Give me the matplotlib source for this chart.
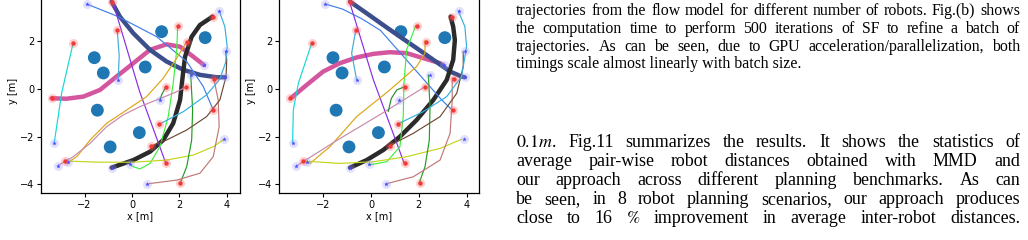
import matplotlib
matplotlib.use("Agg")
import matplotlib.pyplot as plt
import numpy as np

W, H = 1028, 240

# obstacles (same in both panels)
obs_x = [1.25, 3.09, -1.59, -1.21, 0.56, -1.46, 0.31, -0.92]
obs_y = [2.40, 2.15, 1.31, 0.67, 0.92, -0.89, -1.83, -2.43]
obs_r = 0.24

# goal (red) and start (blue) markers, same in both panels
goal_x = [-3.39, -0.86, -2.48, -0.62, 1.93, 2.31, 3.40, 1.42, 2.27, 3.46, 3.43, 1.15, 0.80, -2.83, 1.42, 2.03]
goal_y = [-0.39, 3.66, 1.94, 2.45, 2.65, 1.98, 3.03, 0.07, 0.07, 0.41, -0.88, -1.48, -2.39, -3.02, -3.09, -3.96]
start_x = [-1.91, 3.68, 3.95, -0.58, 3.92, 3.04, 2.48, 1.18, -3.28, 3.88, -2.69, -3.14, -0.86, -0.08, 0.63]
start_y = [3.56, 3.28, 1.57, 0.38, 0.49, 1.00, 0.59, -0.46, -2.25, -2.11, -3.07, -3.22, -3.30, -3.16, -3.98]

# panel (a) trajectories
a_pink = [(-3.39, -0.39), (-2.76, -0.41), (-2.05, -0.32), (-1.35, -0.04), (-0.65, 0.52), (0.06, 1.08),
          (0.76, 1.64), (1.46, 1.87), (2.03, 1.77), (2.59, 1.35), (3.04, 1.00)]
a_navy = [(-0.86, 3.66), (-0.51, 3.03), (0.06, 2.33), (0.76, 1.64), (1.46, 1.15), (2.17, 0.80),
          (2.87, 0.59), (3.57, 0.49), (3.92, 0.49)]
a_black = [(-0.86, -3.30), (0.06, -2.98), (0.76, -2.63), (1.32, -2.14), (1.74, -1.44), (2.03, -0.46),
           (2.14, 0.52), (2.24, 1.35), (2.52, 2.19), (2.87, 2.68), (3.40, 3.03)]
a_cyan = [(-2.48, 1.94), (-2.97, -0.18), (-3.28, -2.25)]
a_royal = [(-1.91, 3.56), (-0.58, 3.03), (1.04, 2.19), (2.31, 1.15), (3.01, 0.10), (3.43, -0.88)]
a_light = [(-0.62, 2.45), (-0.54, 1.40), (-0.58, 0.38)]
a_purple = [(-0.79, 3.59), (0.32, -0.10), (1.42, -3.09)]
a_lime = [(1.93, 2.65), (1.89, 1.64), (1.74, 0.24), (1.53, -1.16), (1.18, -2.42), (0.76, -3.12),
          (0.34, -3.35), (0.06, -3.26), (-0.08, -3.16)]
a_gold = [(2.31, 1.98), (1.89, 1.29), (1.32, 0.45), (0.62, -0.32), (-0.22, -0.88), (-1.07, -1.44),
          (-1.77, -2.14), (-2.33, -2.84), (-2.69, -3.07)]
a_mauve = [(2.27, 0.07), (1.74, -0.18), (1.04, -0.46), (0.34, -0.74), (-0.37, -1.09), (-1.07, -1.58),
           (-1.77, -2.28), (-2.48, -2.84), (-3.14, -3.22)]
a_yg = [(-2.83, -3.02), (-1.35, -3.07), (0.06, -3.07), (1.46, -2.98), (2.59, -2.77), (3.43, -2.42), (3.88, -2.11)]
a_green = [(2.03, -3.96), (2.31, -3.26), (2.52, -2.14), (2.56, -0.88), (2.48, 0.59)]
a_sgreen = [(1.42, 0.07), (1.25, -0.25), (1.18, -0.46)]
a_rbrown = [(3.46, 0.41), (3.64, -0.46), (3.68, -1.58), (3.43, -2.84), (2.87, -3.53), (1.89, -3.82), (0.63, -3.98)]
a_dbrown = [(0.80, -2.39), (1.46, -2.14), (2.31, -1.72), (3.15, -1.16), (3.71, -0.46), (3.97, 0.52),
            (4.00, 1.22), (3.95, 1.57)]
a_sky = [(1.15, -1.48), (2.17, -0.95), (3.15, -0.25), (3.70, 0.40), (3.95, 1.10), (4.02, 1.77),
         (3.92, 2.61), (3.68, 3.28)]

# panel (b) trajectories
b_pink = [(-3.32, -0.36), (-2.69, 0.17), (-2.00, 0.73), (-1.30, 1.08), (-0.60, 1.32), (0.10, 1.47),
          (0.79, 1.54), (1.49, 1.50), (2.19, 1.29), (2.89, 1.08), (3.03, 1.00)]
b_navy = [(-0.88, 3.66), (-0.18, 3.17), (0.51, 2.68), (1.21, 2.19), (1.91, 1.71), (2.61, 1.22),
          (3.31, 0.73), (3.79, 0.52), (3.92, 0.49)]
b_black = [(-0.88, -3.30), (-0.18, -2.98), (0.51, -2.56), (1.21, -2.00), (1.91, -1.30), (2.61, -0.46),
           (3.17, 0.38), (3.44, 1.22), (3.51, 2.05), (3.44, 2.61), (3.33, 3.03)]
b_cyan = [(-2.48, 1.92), (-3.04, 0.24), (-3.25, -0.88), (-3.28, -2.25)]
b_royal = [(-1.92, 3.56), (-1.20, 3.35), (-0.40, 2.95), (0.40, 2.45), (1.50, 1.20), (2.96, -0.46), (3.39, -0.88)]
b_light = [(-0.64, 2.45), (-0.81, 1.50), (-0.60, 0.38)]
b_purple = [(-0.88, 3.59), (0.10, 0.38), (1.38, -3.09)]
b_lime = [(1.87, 2.65), (1.49, 1.64), (1.38, 0.24), (1.35, -1.16), (1.21, -2.42), (0.66, -3.05), (-0.11, -3.19)]
b_gold = [(2.26, 2.03), (2.26, 1.50), (1.91, 0.94), (0.79, -0.04), (-0.60, -1.16), (-1.72, -2.42), (-2.55, -3.12),
          (-2.69, -3.07)]
b_mauve = [(2.22, 0.07), (0.50, -1.00), (-1.50, -2.20), (-3.11, -3.22)]
b_yg = [(-2.83, -3.02), (-1.30, -3.12), (0.10, -3.05), (1.49, -2.84), (2.89, -2.49), (3.79, -2.11)]
b_green = [(2.01, -3.96), (2.26, -3.26), (2.44, -2.14), (2.47, -0.74), (2.40, 0.59)]
b_sgreen = [(1.35, 0.07), (1.08, -0.04), (0.85, -0.40), (0.72, -0.95)]
b_rbrown = [(3.40, 0.47), (3.40, -0.46), (3.31, -1.86), (2.89, -2.98), (1.77, -3.68), (0.61, -3.98)]
b_dbrown = [(0.75, -2.39), (1.77, -1.86), (2.89, -1.16), (3.59, -0.18), (3.86, 0.94), (3.86, 1.57)]
b_sky = [(1.10, -1.48), (2.19, -0.95), (3.17, -0.32), (3.79, 0.52), (4.00, 1.77), (3.93, 2.61), (3.65, 3.28)]

colors = ['#d4569e', '#3c4e8c', '#2b2b2b', '#14d8d8', '#3f7fe8', '#46a9d6', '#8a2be2', '#3ef03e',
          '#dca614', '#c88aa8', '#c5d41a', '#1f9e1f', '#2a8a2a', '#c07878', '#6e4a32', '#35aee0']
widths = [3.2, 3.2, 3.2] + [0.85] * 13

panel_a = [a_pink, a_navy, a_black, a_cyan, a_royal, a_light, a_purple, a_lime,
           a_gold, a_mauve, a_yg, a_green, a_sgreen, a_rbrown, a_dbrown, a_sky]
panel_b = [b_pink, b_navy, b_black, b_cyan, b_royal, b_light, b_purple, b_lime,
           b_gold, b_mauve, b_yg, b_green, b_sgreen, b_rbrown, b_dbrown, b_sky]

caption = [
    "trajectories from the flow model for different number of robots. Fig.(b) shows",
    "the computation time to perform 500 iterations of SF to refine a batch of",
    "trajectories. As can be seen, due to GPU acceleration/parallelization, both",
    "timings scale almost linearly with batch size.",
]
body = [
    "$0.1m$. Fig.11 summarizes the results. It shows the statistics of",
    "average pair-wise robot distances obtained with MMD and",
    "our approach across different planning benchmarks. As can",
    "be seen, in 8 robot planning scenarios, our approach produces",
    "close to 16 $\\%$ improvement in average inter-robot distances.",
]

plt.rcParams['mathtext.fontset'] = 'stix'
fig = plt.figure(figsize=(W / 100, H / 100), dpi=100)


def draw_panel(ax, trajs, xlim):
    for ox, oy in zip(obs_x, obs_y):
        ax.add_patch(plt.Circle((ox, oy), obs_r, color='#1f77b4', zorder=1))
    for tr, c, lw in zip(trajs, colors, widths):
        xs = [p[0] for p in tr]
        ys = [p[1] for p in tr]
        ax.plot(xs, ys, color=c, lw=lw, zorder=2, solid_capstyle='round')
    ax.plot(goal_x, goal_y, 'o', color='#ff6060', ms=6.5, alpha=0.3, mew=0, zorder=3)
    ax.plot(goal_x, goal_y, 'o', color='#f03a3a', ms=3.2, mew=0, zorder=4)
    ax.plot(start_x, start_y, 'o', color='#a0a0ff', ms=6.5, alpha=0.3, mew=0, zorder=3)
    ax.plot(start_x, start_y, '*', color='#4a4aff', ms=3.5, mew=0, zorder=4)
    ax.set_xlim(*xlim)
    ax.set_ylim(-4.36, 4.23)
    ax.set_xticks([-2, 0, 2, 4])
    ax.set_yticks([-4, -2, 0, 2])
    ax.tick_params(labelsize=7, length=3, width=0.8, pad=2)
    ax.set_xlabel("x [m]", fontsize=7, labelpad=1)
    ax.set_ylabel("y [m]", fontsize=7, labelpad=1)
    for s in ax.spines.values():
        s.set_linewidth(0.9)


ax1 = fig.add_axes([41 / W, 47 / H, 199 / W, 205 / H])
draw_panel(ax1, panel_a, (-3.84, 4.56))
ax2 = fig.add_axes([279 / W, 47 / H, 200 / W, 205 / H])
draw_panel(ax2, panel_b, (-3.85, 4.52))

fig.canvas.draw()
rend = fig.canvas.get_renderer()


def justified(lines, x0, x1, base0, dy, size, last_left):
    for i, line in enumerate(lines):
        y = 1 - (base0 + i * dy) / H
        if last_left and i == len(lines) - 1:
            fig.text(x0 / W, y, line, fontsize=size, family='Liberation Serif', va='baseline')
            continue
        words = line.split(" ")
        ts = [fig.text(0, y, w, fontsize=size, family='Liberation Serif', va='baseline') for w in words]
        ws = [t.get_window_extent(rend).width for t in ts]
        gap = ((x1 - x0) - sum(ws)) / max(len(words) - 1, 1)
        x = x0
        for t, w in zip(ts, ws):
            t.set_x(x / W)
            x += w + gap


justified(caption, 516, 1020, 15, 17.8, 11.4, True)
justified(body, 516, 1020, 147, 19.1, 12.9, False)

fig.savefig("out.png", dpi=100)
